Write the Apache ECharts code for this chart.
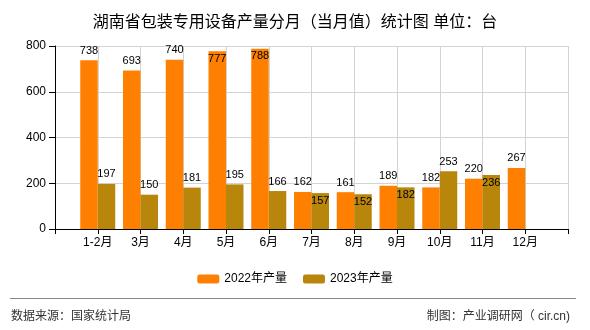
<!DOCTYPE html>
<html>
<head>
<meta charset="utf-8">
<script src="https://cdn.jsdelivr.net/npm/echarts@6/dist/echarts.min.js"></script>
<style>
  html, body { margin: 0; padding: 0; background: #fff; }
  #chart { width: 590px; height: 330px; }
</style>
</head>
<body>
<div id="chart"></div>
<script>
// Monthly output of packaging machinery in Hunan (units)
const months = ['1-2月', '3月', '4月', '5月', '6月', '7月', '8月', '9月', '10月', '11月', '12月'];
const output2022 = [738, 693, 740, 777, 788, 162, 161, 189, 182, 220, 267];
const output2023 = [197, 150, 181, 195, 166, 157, 152, 182, 253, 236, null];
const yTicks = [0, 200, 400, 600, 800];

// value labels that sit inside the bar top instead of above it
const inside2022 = [3, 4];
const inside2023 = [5, 6, 7, 9];

const FONT = '"Liberation Sans", "Noto Sans CJK SC", sans-serif';

// empty slots at both ends so the months sit on the tick positions
const axisCats = [''].concat(months, ['']);

function buildSeriesData(values, insideIdx) {
  const out = [null];
  values.forEach((v, i) => {
    if (v == null) { out.push(null); return; }
    if (insideIdx.indexOf(i) >= 0) {
      out.push({ value: v, label: { position: 'insideTop', distance: 2 } });
    } else {
      out.push(v);
    }
  });
  out.push(null);
  return out;
}

const chart = echarts.init(document.getElementById('chart'), null, { renderer: 'canvas' });

const labelStyle = {
  show: true,
  position: 'top',
  distance: 4,
  color: '#000',
  fontSize: 11,
  fontFamily: FONT
};

chart.setOption({
  animation: false,
  backgroundColor: '#ffffff',
  title: {
    text: '湖南省包装专用设备产量分月（当月值）统计图 单位：台',
    left: 'center',
    top: 10,
    textStyle: { fontSize: 16, fontWeight: 'normal', color: '#000', fontFamily: FONT }
  },
  legend: {
    bottom: 40,
    left: 'center',
    itemWidth: 22,
    itemHeight: 9,
    itemGap: 16,
    textStyle: { fontSize: 12, color: '#000', fontFamily: FONT },
    data: ['2022年产量', '2023年产量']
  },
  grid: { left: 55, right: 22, top: 46, bottom: 101 },
  xAxis: {
    type: 'category',
    boundaryGap: false,
    data: axisCats,
    axisLine: { lineStyle: { color: '#000', width: 1 } },
    axisTick: { show: true, length: 5, lineStyle: { color: '#000' } },
    axisLabel: { color: '#000', fontSize: 12, fontFamily: FONT, margin: 8, interval: 0 },
    splitLine: { show: true, lineStyle: { color: '#d3d3d3', width: 1 } }
  },
  yAxis: {
    type: 'value',
    min: yTicks[0],
    max: yTicks[yTicks.length - 1],
    interval: yTicks[1] - yTicks[0],
    axisLine: { show: true, lineStyle: { color: '#000', width: 1 } },
    axisTick: { show: true, length: 6, lineStyle: { color: '#000' } },
    axisLabel: { color: '#000', fontSize: 12, fontFamily: FONT, margin: 9 },
    splitLine: { show: true, lineStyle: { color: '#d3d3d3', width: 1 } }
  },
  series: [
    {
      name: '2022年产量',
      type: 'bar',
      barWidth: 17.5,
      barGap: '0%',
      itemStyle: { color: '#ff8000' },
      label: labelStyle,
      data: buildSeriesData(output2022, inside2022)
    },
    {
      name: '2023年产量',
      type: 'bar',
      barWidth: 17.5,
      barGap: '0%',
      itemStyle: { color: '#b8860b' },
      label: labelStyle,
      data: buildSeriesData(output2023, inside2023)
    }
  ],
  graphic: [
    {
      type: 'line',
      shape: { x1: 10, y1: 298.5, x2: 576, y2: 298.5 },
      style: { stroke: '#888', lineWidth: 1 }
    },
    {
      type: 'text',
      left: 11,
      top: 311,
      style: { text: '数据来源：国家统计局', fontSize: 12, fill: '#333', fontFamily: FONT }
    },
    {
      type: 'text',
      right: 20,
      top: 311,
      style: { text: '制图：产业调研网（ cir.cn)', fontSize: 12, fill: '#333', fontFamily: FONT }
    }
  ]
});
</script>
</body>
</html>
